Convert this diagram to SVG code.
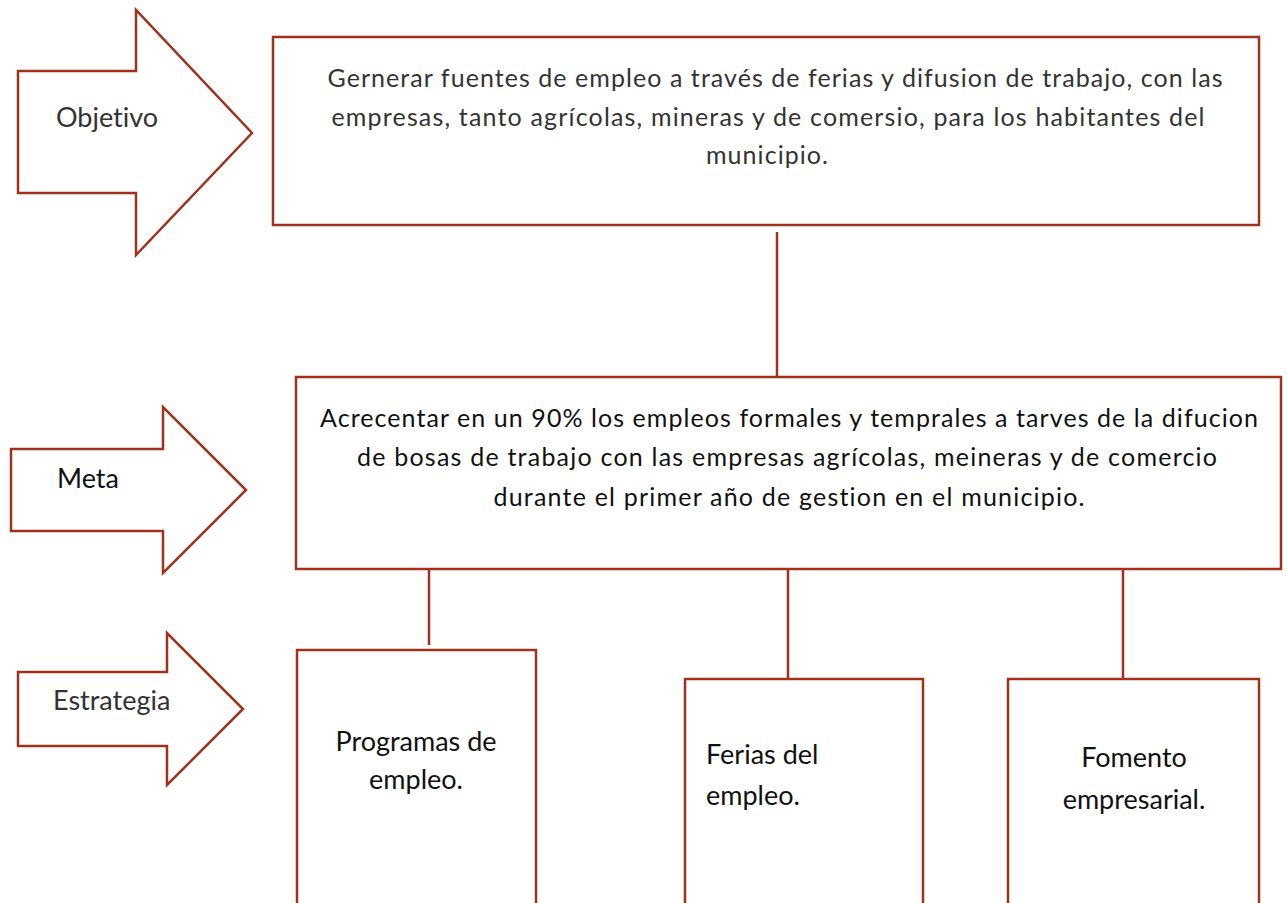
<svg xmlns="http://www.w3.org/2000/svg" width="1287" height="903" viewBox="0 0 1287 903">
<style>
.s{fill:#fff;stroke:#9e321d;stroke-width:2.5}
.c{fill:none;stroke:#9e321d;stroke-width:2.5}
.t{font-family:Lato,"Open Sans",sans-serif;font-size:27px;fill:#111;font-variant-ligatures:none;font-feature-settings:"liga" 0,"clig" 0}
.l{font-size:25px}
.g{fill:#333}
.m{text-anchor:middle}
</style>
<rect width="1287" height="903" fill="#fff"/>
<g id="arrow-objetivo">
<polygon class="s" points="18,71 136,71 136,10 252,133 136,255 136,193 18,193"/>
<text class="t g" x="56" y="127">Objetivo</text>
</g>
<g id="arrow-meta">
<polygon class="s" points="11,449 163,449 163,407 246,490 163,573 163,531 11,531"/>
<text class="t" x="57" y="488">Meta</text>
</g>
<g id="arrow-estrategia">
<polygon class="s" points="18,672 167,672 167,633 243,709 167,785 167,746 18,746"/>
<text class="t g" x="53" y="710">Estrategia</text>
</g>
<g id="connectors">
<line class="c" x1="777" y1="232" x2="777" y2="377"/>
<line class="c" x1="429" y1="569" x2="429" y2="645"/>
<line class="c" x1="788" y1="569" x2="788" y2="679"/>
<line class="c" x1="1123" y1="569" x2="1123" y2="684"/>
</g>
<g id="objetivo">
<rect class="s" x="273" y="37" width="986" height="188"/>
<text class="t l g m" x="775" y="87" textLength="895" lengthAdjust="spacing">Gernerar fuentes de empleo a través de ferias y difusion de trabajo, con las</text>
<text class="t l g m" x="768" y="126" textLength="873" lengthAdjust="spacing">empresas, tanto agrícolas, mineras y de comersio, para los habitantes del</text>
<text class="t l g m" x="767" y="164" textLength="122" lengthAdjust="spacing">municipio.</text>
</g>
<g id="meta">
<rect class="s" x="296" y="377" width="985" height="192"/>
<text class="t l m" x="789" y="427" textLength="938" lengthAdjust="spacing">Acrecentar en un 90% los empleos formales y temprales a tarves de la difucion</text>
<text class="t l m" x="787" y="466" textLength="860" lengthAdjust="spacing">de bosas de trabajo con las empresas agrícolas, meineras y de comercio</text>
<text class="t l m" x="789" y="506" textLength="591" lengthAdjust="spacing">durante el primer año de gestion en el municipio.</text>
</g>
<g id="programas">
<rect class="s" x="297" y="650" width="239" height="270"/>
<text class="t m" x="416" y="751">Programas de</text>
<text class="t m" x="416" y="789">empleo.</text>
</g>
<g id="ferias">
<rect class="s" x="685" y="679" width="238" height="250"/>
<text class="t" x="706" y="764">Ferias del</text>
<text class="t" x="706" y="805">empleo.</text>
</g>
<g id="fomento">
<rect class="s" x="1008" y="679" width="251" height="250"/>
<text class="t m" x="1134" y="767">Fomento</text>
<text class="t m" x="1134" y="809">empresarial.</text>
</g>
</svg>
